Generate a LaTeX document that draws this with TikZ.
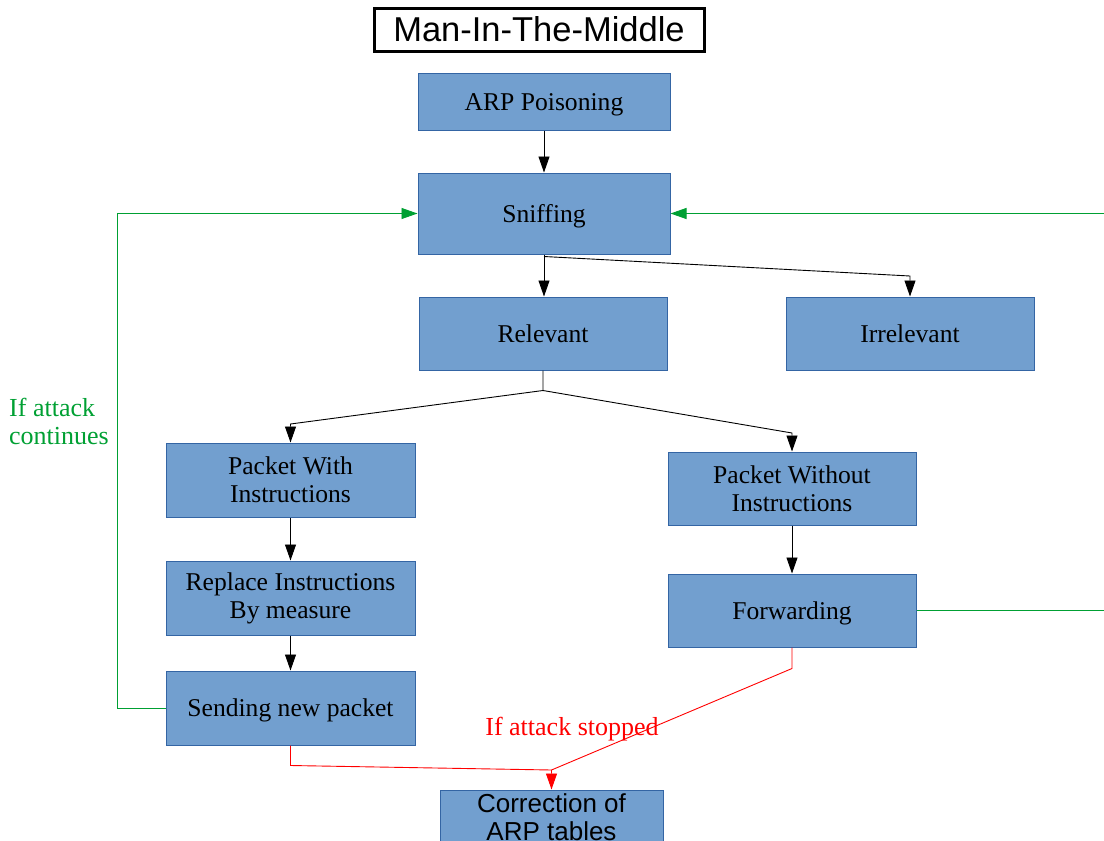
\documentclass[tikz,border=0pt]{standalone}
\usepackage{fontspec}
\setmainfont{Liberation Serif}
\newfontfamily\sansf{Liberation Sans}
\usetikzlibrary{arrows.meta}
\definecolor{boxfill}{HTML}{729FCF}
\definecolor{boxline}{HTML}{3465A4}
\definecolor{lgreen}{HTML}{00A033}
\definecolor{lred}{HTML}{FF0000}
\tikzset{
  box/.style={draw=boxline, fill=boxfill, line width=1pt, inner sep=0pt, align=center,
    font=\fontsize{25.6}{28}\selectfont},
  oneline/.style={text height=22pt, text depth=5pt},
  conn/.style={draw=black, line width=0.9pt, -{Triangle[length=16pt,width=11pt]}},
  gconn/.style={draw=lgreen, line width=0.9pt, -{Triangle[length=16pt,width=11pt]}},
  rconn/.style={draw=lred, line width=0.9pt, -{Triangle[length=16pt,width=11pt]}},
  rline/.style={draw=lred, line width=0.9pt},
}
\begin{document}
\begin{tikzpicture}[x=1pt,y=-1pt]
\useasboundingbox (0,0) rectangle (1104,841);
\clip (0,0) rectangle (1104,841);
\node[draw=black, line width=3pt, minimum width=330pt, minimum height=43pt, inner sep=0pt,
  font=\sansf\fontsize{34.5}{38}\selectfont] (title) at (539,29.5) {Man-In-The-Middle};
\node[box, oneline, minimum width=252pt, minimum height=57pt] (arp) at (544,101.5) {ARP Poisoning};
\node[box, oneline, minimum width=252pt, minimum height=81pt] (sniff) at (544,213.5) {Sniffing};
\node[box, oneline, minimum width=248pt, minimum height=73pt] (rel) at (543,333.5) {Relevant};
\node[box, oneline, minimum width=248pt, minimum height=73pt] (irr) at (910,333.5) {Irrelevant};
\node[box, minimum width=249pt, minimum height=74pt] (pwith) at (290.5,480) {Packet With\\Instructions};
\node[box, minimum width=248pt, minimum height=73pt] (pwo) at (792,488.5) {Packet Without\\Instructions};
\node[box, minimum width=249pt, minimum height=74pt] (repl) at (290.5,598) {Replace Instructions\\By measure};
\node[box, oneline, minimum width=248pt, minimum height=73pt] (fwd) at (792,610.5) {Forwarding};
\node[box, oneline, minimum width=249pt, minimum height=74pt] (send) at (290.5,708) {Sending new packet};
\node[box, minimum width=223pt, minimum height=54pt, font=\sansf\fontsize{26}{28}\selectfont] (corr) at (551.5,817) {Correction of\\ARP tables};

\draw[conn] (arp) -- (sniff);
\draw[conn] (sniff.south) -- (sniff.south |- rel.north);
\draw[conn] ([yshift=-2pt]sniff.south) -- (irr.north |- 0,276) -- (irr.north);
\draw[conn] (rel.south) -- ++(0,20) coordinate (rj) -- (pwith.north |- 0,424) -- (pwith.north);
\draw[conn] (rj) -- (pwo.north |- 0,433) -- (pwo.north);
\draw[conn] (pwith) -- (repl);
\draw[conn] (repl) -- (send);
\draw[conn] (pwo) -- (fwd);

\draw[gconn] (send.west) -- ++(-48,0) |- (sniff.west);
\draw[gconn] (fwd.east) -- ++(220,0) |- (sniff.east);

\draw[rconn] (send.south) -- ++(0,20) -- (corr.north |- 0,770) coordinate (cj) -- (corr.north);
\draw[rline] (fwd.south) -- ++(0,21) -- (cj);

\node[text=lred, font=\fontsize{26}{28}\selectfont, inner sep=0pt] (stop) at (572,729) {If attack stopped};
\node[text=lgreen, font=\fontsize{26}{28}\selectfont, inner sep=0pt, anchor=west, align=left] (cont) at (9,421) {If attack\\continues};
\end{tikzpicture}
\end{document}
